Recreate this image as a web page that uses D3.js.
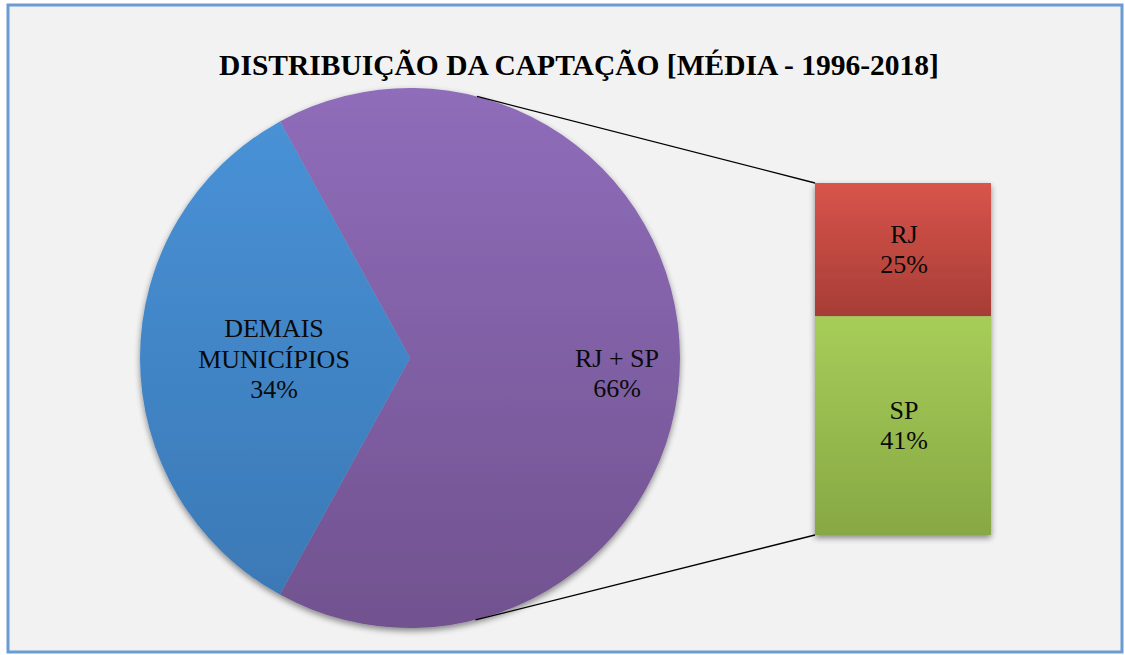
<!DOCTYPE html>
<html><head><meta charset="utf-8">
<script src="https://cdn.jsdelivr.net/npm/d3@7"></script>
<style>body{margin:0;background:#fff}svg{display:block}</style>
</head><body>
<svg id="c" width="1125" height="655"></svg>
<script>
const title = "DISTRIBUIÇÃO DA CAPTAÇÃO [MÉDIA - 1996-2018]";
const pieCategories = ["RJ + SP", "DEMAIS|MUNICÍPIOS"];
const pieValues = [66, 34];
const barCategories = ["RJ", "SP"];
const barValues = [25, 41];

const svg = d3.select("#c");
const defs = svg.append("defs");
function grad(id, top, bot) {
  const g = defs.append("linearGradient").attr("id", id).attr("x1",0).attr("y1",0).attr("x2",0).attr("y2",1);
  g.append("stop").attr("offset","0%").attr("stop-color",top);
  g.append("stop").attr("offset","100%").attr("stop-color",bot);
}
grad("gPurple", "#8f6dba", "#71528f");
grad("gBlue", "#4891d6", "#3b79b6");
grad("gRed", "#d9544b", "#a63d36");
grad("gGreen", "#a7cd59", "#87a844");
const f = defs.append("filter").attr("id","sh").attr("x","-20%").attr("y","-20%").attr("width","140%").attr("height","140%");
f.append("feGaussianBlur").attr("in","SourceAlpha").attr("stdDeviation",3);
f.append("feOffset").attr("dx",0).attr("dy",3).attr("result","b");
f.append("feComponentTransfer").append("feFuncA").attr("type","linear").attr("slope",0.45);
const m = f.append("feMerge"); m.append("feMergeNode"); m.append("feMergeNode").attr("in","SourceGraphic");

// frame
svg.append("rect").attr("x",8).attr("y",5).attr("width",1114).attr("height",647)
  .attr("fill","#f2f2f2").attr("stroke","#6a9bd1").attr("stroke-width",3);

const font = "Liberation Serif, Times New Roman, serif";
svg.append("text").attr("x",579).attr("y",75).attr("text-anchor","middle")
  .attr("font-family",font).attr("font-weight","bold")
  .attr("font-size",29.5).attr("fill","#000").text(title);

const cx = 410, cy = 358, R = 270;
const pieFills = ["url(#gPurple)", "url(#gBlue)"];
const total = d3.sum(pieValues);
const blueSpan = pieValues[1] / total * 2 * Math.PI;
const start = -Math.PI/2 + blueSpan/2 - 2*Math.PI; // blue centered at left
const pie = d3.pie().sort(null).startAngle(start).endAngle(start + 2*Math.PI);
const arcs = pie(pieValues);
const arc = d3.arc().innerRadius(0).outerRadius(R);
const pg = svg.append("g").attr("transform",`translate(${cx},${cy})`);
const pgShadow = pg.append("g").attr("filter","url(#sh)");
pgShadow.selectAll("path").data(arcs).join("path").attr("d",arc)
  .attr("fill",(d,i)=>pieFills[i]);

// bar
const barX = 815, barW = 176, barTop = 183, barBot = 535;
const y = d3.scaleLinear().domain([0, d3.sum(barValues)]).range([barTop, barBot]);
const barFills = ["url(#gRed)", "url(#gGreen)"];
let cum = 0;
const segs = barValues.map((v,i)=>{ const s = {i, v, y0: cum, y1: cum+v}; cum += v; return s; });
const bg = svg.append("g").attr("filter","url(#sh)");
bg.selectAll("rect").data(segs).join("rect")
  .attr("x",barX).attr("width",barW)
  .attr("y",d=>y(d.y0)).attr("height",d=>y(d.y1)-y(d.y0))
  .attr("fill",d=>barFills[d.i]);

// tangent connector lines from bar corners to the circle
function tangent(px, py, upper) {
  const dx = px - cx, dy = py - cy, d = Math.hypot(dx, dy);
  const a = Math.atan2(dy, dx), b = Math.acos(R / d);
  const t = upper ? a - b : a + b;
  return [cx + R*Math.cos(t), cy + R*Math.sin(t)];
}
[[barX, barTop, true],[barX, barBot, false]].forEach(([px,py,up])=>{
  const [tx,ty] = tangent(px,py,up);
  svg.append("line").attr("x1",tx).attr("y1",ty).attr("x2",px).attr("y2",py)
    .attr("stroke","#000").attr("stroke-width",1.3);
});

// meanBaseline = average baseline of the lines
function label(x, meanBaseline, lines) {
  const t = svg.append("text").attr("text-anchor","middle").attr("font-family",font)
    .attr("font-size",26).attr("fill","#0a0a0a");
  const lh = 30.5;
  lines.forEach((ln,k)=>{
    t.append("tspan").attr("x",x).attr("y", meanBaseline + (k - (lines.length-1)/2)*lh).text(ln);
  });
}
const pctFmt = v => Math.round(v/total*100) + "%";
label(617, 382, [...pieCategories[0].split("|"), pctFmt(pieValues[0])]);
label(274, 367.5, [...pieCategories[1].split("|"), pctFmt(pieValues[1])]);
segs.forEach(s=>{
  label(barX + barW/2 + 1, (y(s.y0)+y(s.y1))/2 + 8.5, [barCategories[s.i], Math.round(s.v/total*100) + "%"]);
});
</script>
</body></html>
